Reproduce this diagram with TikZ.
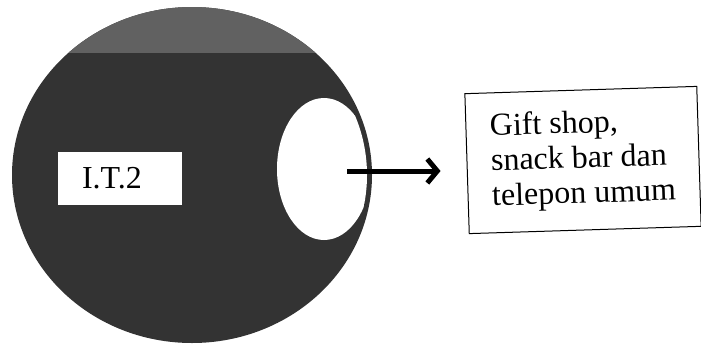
\documentclass[tikz,border=0pt]{standalone}
\usepackage{fontspec}
\setmainfont{Liberation Serif}
\usetikzlibrary{arrows.meta,positioning}

\begin{document}
\begin{tikzpicture}[x=1pt,y=-1pt,>={Straight Barb[length=10pt,width=24pt]},
  hall/.style={fill=black!80},
  tag/.style={fill=white,minimum width=124pt,minimum height=53pt,inner xsep=24pt,
    text width=76pt,align=left,font=\fontsize{32}{34}\selectfont},
  infobox/.style={draw,line width=1pt,rotate=1.8,minimum width=232pt,
    minimum height=140pt,align=left,font=\fontsize{32}{35}\selectfont}]
  \useasboundingbox (0,0) rectangle (701,343);
  % ruang utama
  \fill[hall] (192,175) ellipse [x radius=180, y radius=168];
  \begin{scope}
    \clip (192,175) ellipse [x radius=180, y radius=168];
    \fill[black!62] (0,0) rectangle (400,53);
  \end{scope}
  \begin{scope}
    \clip (192,175) ellipse [x radius=175, y radius=163];
    \fill[white] (324,169) ellipse [x radius=47, y radius=71];
  \end{scope}
  \node[tag] (it) at (120,178.5) {I.T.2};
  \node[infobox] (info) at (583,160) {Gift shop,\\snack bar dan\\telepon umum};
  \coordinate (tail) at (347,171);
  \draw[->,line width=5pt,shorten >=26pt] (tail) -- (tail -| info.west);
\end{tikzpicture}
\end{document}
